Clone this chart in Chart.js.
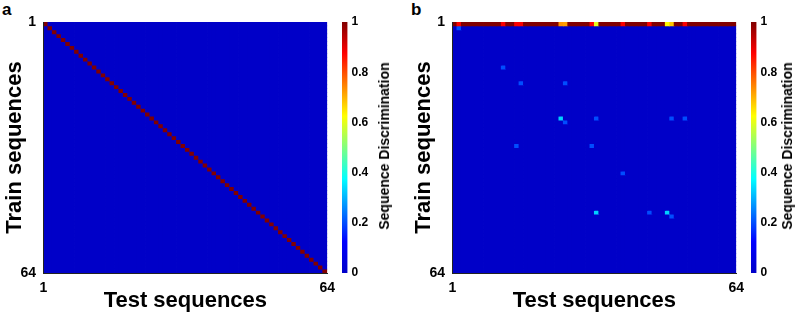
<!DOCTYPE html>
<html>
<head>
<meta charset="utf-8">
<script src="https://cdn.jsdelivr.net/npm/chart.js@4.4.1/dist/chart.umd.min.js"></script>
<style>
body { margin: 0; background: #fff; width: 798px; height: 315px; overflow: hidden; position: relative; font-family: "Liberation Sans", Arial, sans-serif; }
canvas, .lbl { position: absolute; }
.panel { font-weight: bold; font-size: 17px; line-height: 17px; }
.cbTitle { font-weight: bold; font-size: 14px; white-space: nowrap; transform: translate(-50%, -50%) rotate(-90deg); }
</style>
</head>
<body>
<div class="lbl panel" style="left:2px;top:1px">a</div>
<div class="lbl panel" style="left:411px;top:1px">b</div>
<canvas id="heatA" width="342" height="315" style="left:0;top:0"></canvas>
<canvas id="barA" width="60" height="315" style="left:336px;top:0"></canvas>
<canvas id="heatB" width="342" height="315" style="left:409px;top:0"></canvas>
<canvas id="barB" width="60" height="315" style="left:745px;top:0"></canvas>
<div class="lbl cbTitle" style="left:384px;top:146px">Sequence Discrimination</div>
<div class="lbl cbTitle" style="left:787px;top:146px">Sequence Discrimination</div>
<script>
const nSeq = 64;
const axisTicks = [0, 64];              // end ticks sit on the cell edges
const axisTickLabels = ["1", "64"];
const cbTicks = [0, 0.2, 0.4, 0.6, 0.8, 1];
const cbTickLabels = ["0", "0.2", "0.4", "0.6", "0.8", "1"];

// panel a: train i vs test i gives 1, everything else 0
const diagA = 1;

// panel b: train sequence 1 is ~1 for every test sequence, except these
const rowOneB = 1;
const rowOneTest = [2, 12, 15, 16, 25, 26, 32, 33, 39, 45, 49, 50, 53];
const rowOneVal = [0.88, 0.88, 0.88, 0.88, 0.73, 0.72, 0.88, 0.6, 0.88, 0.88, 0.63, 0.68, 0.88];

// panel b: weak scattered responses
const spotTrain = [2, 12, 16, 16, 25, 26, 25, 25, 25, 32, 32, 39, 49, 49, 49, 50];
const spotTest = [2, 12, 16, 26, 25, 26, 33, 50, 53, 15, 32, 39, 33, 45, 49, 50];
const spotVal = [0.2, 0.2, 0.2, 0.2, 0.33, 0.2, 0.2, 0.2, 0.2, 0.2, 0.2, 0.2, 0.33, 0.2, 0.33, 0.2];

// jet-like colour map
const cmapStops = [
    [0, [0, 0, 200]],
    [0.125, [0, 0, 255]],
    [0.375, [0, 255, 255]],
    [0.625, [255, 255, 0]],
    [0.875, [255, 0, 0]],
    [1, [128, 0, 0]]
];

function jet(v) {
    for (let i = 1; i < cmapStops.length; i++) {
        const [v1, c1] = cmapStops[i];
        if (v <= v1) {
            const [v0, c0] = cmapStops[i - 1];
            const t = (v - v0) / (v1 - v0);
            const c = c0.map((a, k) => Math.round(a + (c1[k] - a) * t));
            return `rgb(${c[0]},${c[1]},${c[2]})`;
        }
    }
    return "rgb(128,0,0)";
}

function emptyMatrix() {
    const m = [];
    for (let r = 0; r < nSeq; r++) m.push(new Array(nSeq).fill(0));
    return m;
}

const matA = emptyMatrix();
for (let i = 0; i < nSeq; i++) matA[i][i] = diagA;

const matB = emptyMatrix();
matB[0].fill(rowOneB);
rowOneTest.forEach((t, i) => { matB[0][t - 1] = rowOneVal[i]; });
spotTrain.forEach((r, i) => { matB[r - 1][spotTest[i] - 1] = spotVal[i]; });

Chart.defaults.font.family = '"Liberation Sans", Arial, sans-serif';
Chart.defaults.color = "#000";

function heatmap(id, m) {
    const datasets = m.map((row, r) => ({
        data: row.map((v, c) => ({ x: c + 0.5, y: [r, r + 1] })),
        backgroundColor: row.map(jet),
        borderWidth: 0,
        inflateAmount: 0.4,
        grouped: false,
        barPercentage: 1,
        categoryPercentage: 1
    }));

    return new Chart(document.getElementById(id), {
        type: "bar",
        data: { datasets },
        options: {
            responsive: false,
            animation: false,
            events: [],
            layout: { padding: { top: 22, right: 9.5, left: 0, bottom: 0 } },
            plugins: { legend: { display: false }, tooltip: { enabled: false } },
            scales: {
                x: {
                    type: "linear", min: 0, max: nSeq, offset: false,
                    grid: { display: false, drawTicks: false },
                    border: { display: true, color: "#222", width: 1, z: 1 },
                    afterBuildTicks: s => { s.ticks = axisTicks.map(v => ({ value: v })); },
                    ticks: { padding: 7, autoSkip: false, maxRotation: 0, font: { size: 14, weight: "bold" },
                             callback: (v, i) => axisTickLabels[i] },
                    title: { display: true, text: "Test sequences", font: { size: 22, weight: "bold" },
                             padding: { top: 0, bottom: 1 } },
                    afterFit: s => { s.height = 42; }
                },
                y: {
                    type: "linear", min: 0, max: nSeq, reverse: true,
                    grid: { display: false, drawTicks: false },
                    border: { display: true, color: "#222", width: 1, z: 1 },
                    afterBuildTicks: s => { s.ticks = axisTicks.map(v => ({ value: v })); },
                    ticks: { padding: 7.5, autoSkip: false, font: { size: 14, weight: "bold" },
                             callback: (v, i) => axisTickLabels[i] },
                    title: { display: true, text: "Train sequences", font: { size: 22, weight: "bold" },
                             padding: { top: 2, bottom: 0 } },
                    afterFit: s => { s.width = 43.5; }
                }
            }
        }
    });
}

function colorbar(id) {
    return new Chart(document.getElementById(id), {
        type: "bar",
        data: {
            labels: [""],
            datasets: [{
                data: [[0, 1]],
                backgroundColor: ctx => {
                    const chart = ctx.chart;
                    if (!chart.chartArea) return null;
                    const y = chart.scales.y;
                    const g = chart.ctx.createLinearGradient(0, y.getPixelForValue(0), 0, y.getPixelForValue(1));
                    cmapStops.forEach(([v, c]) => g.addColorStop(v, `rgb(${c[0]},${c[1]},${c[2]})`));
                    return g;
                },
                borderWidth: 0,
                barPercentage: 1,
                categoryPercentage: 1
            }]
        },
        options: {
            responsive: false,
            animation: false,
            events: [],
            layout: { padding: { left: 6, top: 22, bottom: 42, right: 0 } },
            plugins: { legend: { display: false }, tooltip: { enabled: false } },
            scales: {
                x: { display: false },
                y: {
                    position: "right", min: 0, max: 1,
                    grid: { display: false, drawTicks: false },
                    border: { display: false },
                    afterBuildTicks: s => { s.ticks = cbTicks.map(v => ({ value: v })); },
                    ticks: { padding: 4, autoSkip: false, font: { size: 12, weight: "bold" },
                             callback: (v, i) => cbTickLabels[i] },
                    afterFit: s => { s.width = 48.5; }
                }
            }
        }
    });
}

heatmap("heatA", matA);
colorbar("barA");
heatmap("heatB", matB);
colorbar("barB");
</script>
</body>
</html>
